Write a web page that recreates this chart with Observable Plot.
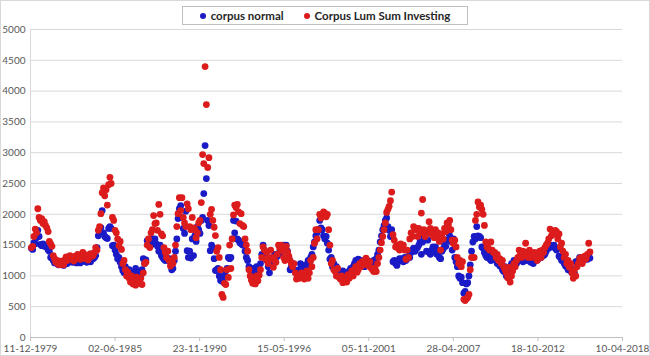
<!DOCTYPE html>
<html><head><meta charset="utf-8">
<script src="https://cdn.jsdelivr.net/npm/d3@7"></script>
<script src="https://cdn.jsdelivr.net/npm/@observablehq/plot@0.6"></script>
<style>
body{margin:0;background:#fff;}
#wrap{position:relative;width:650px;height:356px;font-family:Lato,"Open Sans",sans-serif;}
#frame{position:absolute;left:0;top:0;width:650px;height:356px;box-sizing:border-box;border:1px solid #d9d9d9;pointer-events:none;}
#legend{position:absolute;left:182px;top:6px;width:286px;height:19px;box-sizing:border-box;border:1px solid #bfbfbf;background:#fff;display:flex;align-items:center;justify-content:center;gap:20px;font-size:11.5px;font-weight:bold;color:#262626;white-space:nowrap;}
.sw{display:inline-block;width:6px;height:6px;border-radius:50%;margin-right:5px;vertical-align:middle;position:relative;top:-1px;}
</style></head>
<body><div id="wrap"><div id="chart"></div><div id="legend"></div><div id="frame"></div></div>
<script>
// Monthly values, first value = January 1980
const startMonth = "1980-01-01";
const seriesNames = ["corpus normal", "Corpus Lum Sum Investing"];
const seriesColors = ["#1a1ac6", "#dc1c1c"];

const corpusNormal = [
1450,1430,1540,1520,1620,1740,1640,1510,1490,1520,1480,1500,
1460,1420,1400,1300,1290,1250,1210,1230,1200,1180,1220,1190,
1200,1170,1210,1240,1200,1230,1280,1250,1220,1260,1230,1210,
1240,1270,1210,1230,1260,1290,1240,1220,1250,1280,1230,1270,
1280,1300,1330,1460,1650,1700,1785,2060,1700,1640,1620,1607,
1770,1800,1770,1490,1500,1420,1350,1280,1300,1220,1150,1087,
1050,1150,1090,1020,1100,1050,980,1060,1000,1120,1040,990,
1050,1000,1100,1280,1200,1260,1574,1520,1560,1500,1600,1540,
1600,1520,1480,1400,1500,1330,1300,1270,1250,1300,1260,1280,
1220,1100,1120,1250,1400,1600,1930,2090,2140,1950,1770,1690,
2050,1410,1300,1400,1290,1600,1330,1650,1560,1800,1750,1690,
1900,1950,2337,3116,2580,1900,1818,1410,1500,1460,1280,1087,
1100,1120,1000,925,950,900,1000,1080,1120,1300,1280,1300,
1600,1900,1700,1890,1600,1580,1540,1520,1500,1560,1400,1300,
1250,1150,1100,1050,1120,1060,1100,1150,1080,1130,1200,1350,
1500,1420,1300,1250,1150,1050,1200,1300,1280,1350,1300,1320,
1350,1400,1380,1450,1500,1420,1500,1400,1300,1100,1150,1200,
1100,1060,1080,1040,1100,1200,1150,1060,1100,1180,1120,1250,
1200,1300,1350,1470,1550,1650,1700,1750,1900,1780,1750,1650,
1600,1640,1530,1420,1270,1300,1150,1200,1100,1150,1050,1000,
1050,1000,1080,1030,1000,980,1050,1080,1120,1050,1150,1200,
1250,1180,1270,1220,1250,1170,1200,1150,1230,1250,1180,1200,
1230,1180,1250,1200,1280,1350,1420,1550,1650,1750,1820,1900,
1940,1800,1740,1640,1750,1230,1250,1200,1170,1230,1280,1250,
1280,1230,1300,1250,1280,1320,1300,1380,1420,1450,1400,1440,
1460,1500,1550,1350,1550,1620,1650,1400,1580,1380,1350,1420,
1470,1400,1470,1350,1380,1300,1280,1400,1440,1500,1480,1580,
1700,1650,1560,1420,1600,1300,1230,1150,1000,960,980,890,
720,750,870,890,1000,1180,1400,1550,1640,1600,1800,1650,
1640,1620,1470,1450,1380,1330,1300,1350,1280,1250,1300,1270,
1280,1250,1200,1250,1160,1200,1100,1070,1150,1000,1100,1050,
1120,1200,1160,1250,1220,1200,1280,1250,1300,1280,1230,1300,
1280,1250,1300,1270,1220,1260,1200,1300,1250,1300,1280,1320,
1300,1350,1330,1350,1400,1470,1450,1500,1480,1470,1500,1450,
1420,1450,1320,1300,1250,1300,1200,1160,1150,1100,1150,1080,
1050,1110,1040,1230,1180,1250,1300,1280,1250,1300,1270,1300,
1270,1300,1290];

const corpusLumpSum = [
1460,1480,1640,1760,1700,2090,1950,1900,1930,1850,1880,1820,
1780,1720,1560,1520,1480,1330,1280,1220,1250,1190,1180,1240,
1230,1180,1260,1310,1250,1290,1330,1270,1300,1240,1320,1280,
1350,1300,1270,1330,1380,1310,1280,1340,1260,1300,1360,1320,
1330,1380,1460,1420,1740,1800,2010,2350,2430,2300,2400,2150,
2480,2600,2500,1950,1900,1740,1700,1600,1490,1560,1430,1200,
1250,1100,1000,1060,960,900,1000,870,940,850,980,900,
880,960,860,1050,1200,1220,1500,1600,1460,1700,1750,1980,
1850,1860,1740,2160,2000,1680,1650,1460,1380,1300,1400,1250,
1160,1250,1200,1300,1500,1800,2010,2270,2060,2270,1950,1860,
1800,2170,2090,1800,1750,1950,1780,1750,1620,1700,1860,1900,
2190,2970,2824,4398,3782,2760,2920,2000,2080,1900,1790,1655,
1400,1460,1300,1100,700,650,880,860,1100,975,1500,1120,
1600,1990,2150,2110,2160,2040,1850,2010,1820,1800,1600,1500,
1400,1100,1000,930,880,960,870,1000,920,1010,1100,1300,
1470,1420,1270,1380,1200,1280,1420,1300,1140,1250,1220,1350,
1500,1450,1500,1410,1300,1250,1480,1390,1320,1250,1200,1150,
1200,1050,950,990,960,970,1050,1000,950,1020,1080,960,
1050,1250,1150,1300,1530,1750,1600,1750,2000,1940,2000,2040,
2020,1960,2000,1750,1500,1200,1250,1100,1070,1000,1120,980,
950,1000,890,930,970,900,1020,960,1010,1080,1000,1100,
1150,1060,1100,1200,1150,1230,1180,1250,1290,1200,1160,1230,
1130,1100,1070,1130,1070,1200,1300,1420,1540,1640,1750,1860,
2030,2080,2130,2220,2360,1670,1580,1470,1500,1450,1420,1520,
1450,1500,1420,1270,1420,1300,1600,1700,1640,1800,1750,1770,
1640,1770,1700,2020,2240,1750,1640,1700,1720,1880,1770,1680,
1650,1620,1750,1640,1700,1560,1420,1680,1600,1770,1720,1860,
1830,1900,1750,1580,1520,1580,1470,1300,1200,1250,1150,1230,
620,600,630,650,700,1100,1300,1300,1300,1900,2000,2200,
2120,2150,2080,2000,1820,1550,1470,1450,1420,1550,1420,1380,
1380,1300,1350,1250,1280,1200,1250,1150,1100,1050,970,1140,
900,1000,1080,1200,1150,1250,1300,1420,1350,1300,1400,1340,
1530,1380,1300,1420,1350,1300,1340,1380,1300,1250,1350,1400,
1300,1420,1380,1460,1500,1530,1600,1760,1650,1700,1680,1740,
1720,1600,1680,1470,1530,1400,1300,1350,1200,1250,1140,1200,
1050,960,1100,1000,1150,1200,1280,1300,1200,1250,1320,1280,
1350,1530,1390];

const xTickLabels = ["11-12-1979","02-06-1985","23-11-1990","15-05-1996","05-11-2001","28-04-2007","18-10-2012","10-04-2018"];
const yTicks = [0,500,1000,1500,2000,2500,3000,3500,4000,4500,5000];

const parseDMY = d3.utcParse("%d-%m-%Y");
const xTicks = xTickLabels.map(parseDMY);
const labelOf = new Map(xTicks.map((d, i) => [+d, xTickLabels[i]]));
const start = d3.utcParse("%Y-%m-%d")(startMonth);

const data = [];
[corpusNormal, corpusLumpSum].forEach((arr, s) => {
  arr.forEach((v, i) => data.push({date: d3.utcMonth.offset(start, i), value: v, series: seriesNames[s]}));
});

const chart = Plot.plot({
  width: 650, height: 356,
  marginLeft: 30, marginRight: 28, marginTop: 29, marginBottom: 19,
  style: {fontFamily: "Lato, 'Open Sans', sans-serif", fontSize: "10px", color: "#595959", background: "transparent"},
  x: {type: "utc", domain: [xTicks[0], xTicks[xTicks.length - 1]]},
  y: {domain: [0, 5000]},
  color: {domain: seriesNames, range: seriesColors},
  marks: [
    Plot.gridY(yTicks, {stroke: "#d9d9d9", strokeOpacity: 1}),
    Plot.ruleX([xTicks[0]], {stroke: "#d9d9d9", strokeOpacity: 1}),
    Plot.axisY(yTicks, {tickSize: 0, tickPadding: 5, tickFormat: d => String(d), label: null, fill: "#595959"}),
    Plot.axisX(xTicks, {tickSize: 4, tickPadding: 3, tickFormat: d => labelOf.get(+d), label: null, stroke: "#bfbfbf", fill: "#595959"}),
    Plot.ruleY([0], {stroke: "#bfbfbf"}),
    Plot.dot(data, {x: "date", y: "value", fill: "series", r: 3.4, stroke: null})
  ]
});
document.getElementById("chart").appendChild(chart);

const legend = document.getElementById("legend");
seriesNames.forEach((name, i) => {
  const item = document.createElement("span");
  const sw = document.createElement("span");
  sw.className = "sw";
  sw.style.background = seriesColors[i];
  item.appendChild(sw);
  item.appendChild(document.createTextNode(name));
  legend.appendChild(item);
});
</script>
</body></html>
